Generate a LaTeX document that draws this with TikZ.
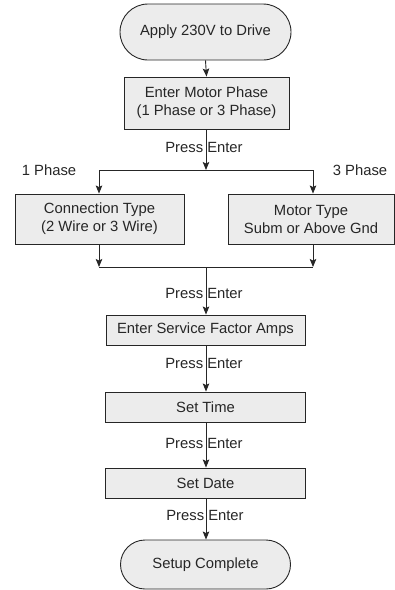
\documentclass[tikz,border=0pt]{standalone}
\usepackage{fontspec}
\setmainfont{Liberation Sans}
\usetikzlibrary{arrows.meta,shapes.misc}
\begin{document}
\begin{tikzpicture}[x=1pt,y=-1pt,
  every node/.style={font=\fontsize{14.8}{18}\selectfont, text=black!85},
  stepbox/.style={draw=black!85, fill=gray!15, line width=0.9pt, inner sep=0pt, align=center},
  termbox/.style={draw=black!85, fill=gray!15, line width=0.9pt, inner sep=0pt, align=center, rounded rectangle},
  conn/.style={draw=black!85, line width=0.9pt},
  arr/.style={conn, -{Stealth[length=8pt,width=6.5pt,inset=1.5pt]}},
  lbl/.style={inner sep=0pt}
]
\useasboundingbox (0,0) rectangle (395,590);

\node[termbox, minimum width=171pt, minimum height=56pt] (start) at (205.5,32) {Apply 230V to Drive};
\node[stepbox, minimum width=165pt, minimum height=52pt] (phase) at (206.5,103) {Enter Motor Phase\\(1 Phase or 3 Phase)};
\node[stepbox, minimum width=169pt, minimum height=50pt] (ctype) at (99.5,219) {Connection Type\\(2 Wire or 3 Wire)};
\node[stepbox, minimum width=166pt, minimum height=50pt] (mtype) at (311,219) {Motor Type\\Subm or Above Gnd};
\node[stepbox, minimum width=199pt, minimum height=30pt] (sfa) at (205.5,330) {Enter Service Factor Amps};
\node[stepbox, minimum width=200pt, minimum height=30pt] (stime) at (205.5,407) {Set Time};
\node[stepbox, minimum width=200pt, minimum height=30pt] (sdate) at (205.5,483) {Set Date};
\node[termbox, minimum width=170pt, minimum height=49pt] (done) at (205.5,564.5) {Setup Complete};

\coordinate (split) at (206,170);
\coordinate (splitL) at (99,170);
\coordinate (splitR) at (313,170);
\coordinate (joinL) at (99,267);
\coordinate (joinR) at (313,267);
\coordinate (join) at (206,267);

\draw[arr] (start.south) -- (phase.north);
\draw[arr] (phase.south -| split) -- (split);
\draw[conn] (splitL) -- (splitR);
\draw[arr] (splitL) -- (splitL |- ctype.north);
\draw[arr] (splitR) -- (splitR |- mtype.north);
\draw[arr] (joinL |- ctype.south) -- (joinL);
\draw[arr] (joinR |- mtype.south) -- (joinR);
\draw[conn] (joinL) -- (joinR);
\draw[arr] (join) -- (join |- sfa.north);
\draw[arr] (join |- sfa.south) -- (join |- stime.north);
\draw[arr] (join |- stime.south) -- (join |- sdate.north);
\draw[arr] (join |- sdate.south) -- (join |- done.north);

\node[lbl] (pe1) at (204,147) {Press Enter};
\node[lbl] (pe2) at (204,293) {Press Enter};
\node[lbl] (pe3) at (204,363) {Press Enter};
\node[lbl] (pe4) at (204,443) {Press Enter};
\node[lbl] (pe5) at (205,515) {Press Enter};
\node[lbl] (ph1) at (49,170) {1 Phase};
\node[lbl] (ph3) at (360,170) {3 Phase};
\end{tikzpicture}
\end{document}
